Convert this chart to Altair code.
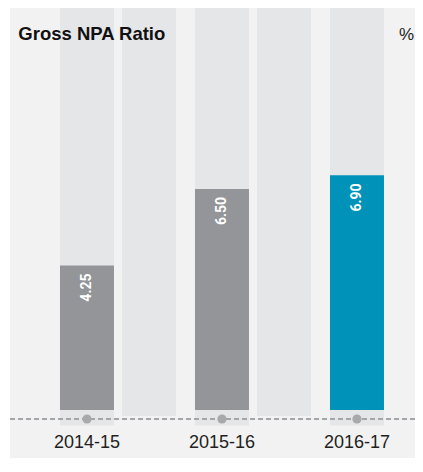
import altair as alt
import pandas as pd

years = ["2014-15", "2015-16", "2016-17"]
ratios = [4.25, 6.50, 6.90]
kinds = ["past", "past", "current"]
gap_after = ["2014-15", "2015-16"]
title_text = "Gross NPA Ratio"
unit_text = "%"

df = pd.DataFrame({"year": years, "ratio": ratios, "kind": kinds})
gaps = pd.DataFrame({"year": gap_after})
single = pd.DataFrame({"k": [0]})

W, H = 405, 450

x = alt.X(
    "year:N",
    sort=years,
    scale=alt.Scale(domain=years, paddingInner=0.6, paddingOuter=0.3, align=0.617),
    axis=alt.Axis(
        title=None, orient="bottom", offset=-14, ticks=False, domain=False,
        labelPadding=3, labelAngle=0, labelFont="Liberation Sans", labelFontSize=18,
        labelColor="#231f20", labelBaseline="alphabetic", grid=False,
    ),
)
y = alt.Y("ratio:Q", scale=alt.Scale(domain=[0, 11.82], range=[402, 0]), axis=None)

col_color = "#e5e6e8"

bg_cols = alt.Chart(df).mark_bar(color=col_color).encode(
    x=x, y=alt.value(0), y2=alt.value(417.6)
)
gap_cols = alt.Chart(gaps).mark_bar(color=col_color, xOffset=62).encode(
    x=x, y=alt.value(0), y2=alt.value(408)
)
bars = alt.Chart(df).mark_bar().encode(
    x=x,
    y=y,
    y2=alt.datum(0),
    color=alt.Color(
        "kind:N",
        scale=alt.Scale(domain=["past", "current"], range=["#939598", "#0092b9"]),
        legend=None,
    ),
)
rule = alt.Chart(single).mark_rule(color="#a3a5a8", strokeWidth=2, strokeDash=[5, 3]).encode(
    x=alt.value(0), x2=alt.value(W), y=alt.value(411)
)
dots = alt.Chart(df).mark_circle(size=85, color="#a7a9ac", opacity=1).encode(
    x=x, y=alt.value(411)
)
labels = alt.Chart(df).mark_text(
    angle=270, align="right", baseline="middle", dx=-8,
    font="Roboto", fontWeight="bold", fontSize=14, color="white",
).encode(x=x, y=y, text=alt.Text("ratio:Q", format=".2f"))

title = alt.Chart(single).mark_text(
    align="left", baseline="alphabetic", font="Liberation Sans", fontWeight="bold",
    fontSize=18.5, color="#111111",
).encode(x=alt.value(8.3), y=alt.value(32), text=alt.value(title_text))

unit = alt.Chart(single).mark_text(
    align="right", baseline="alphabetic", font="Liberation Sans",
    fontSize=17, color="#222222",
).encode(x=alt.value(W - 1), y=alt.value(31.5), text=alt.value(unit_text))

chart = (
    alt.layer(bg_cols, gap_cols, bars, rule, dots, labels, title, unit)
    .properties(
        width=W, height=H, autosize="none",
        padding={"left": 2, "top": 0, "right": 0, "bottom": 0},
        background="white",
    )
    .configure_view(fill="#f2f2f2", strokeWidth=0)
)

chart.save("out.html", embed_options={"renderer": "svg", "actions": False})
